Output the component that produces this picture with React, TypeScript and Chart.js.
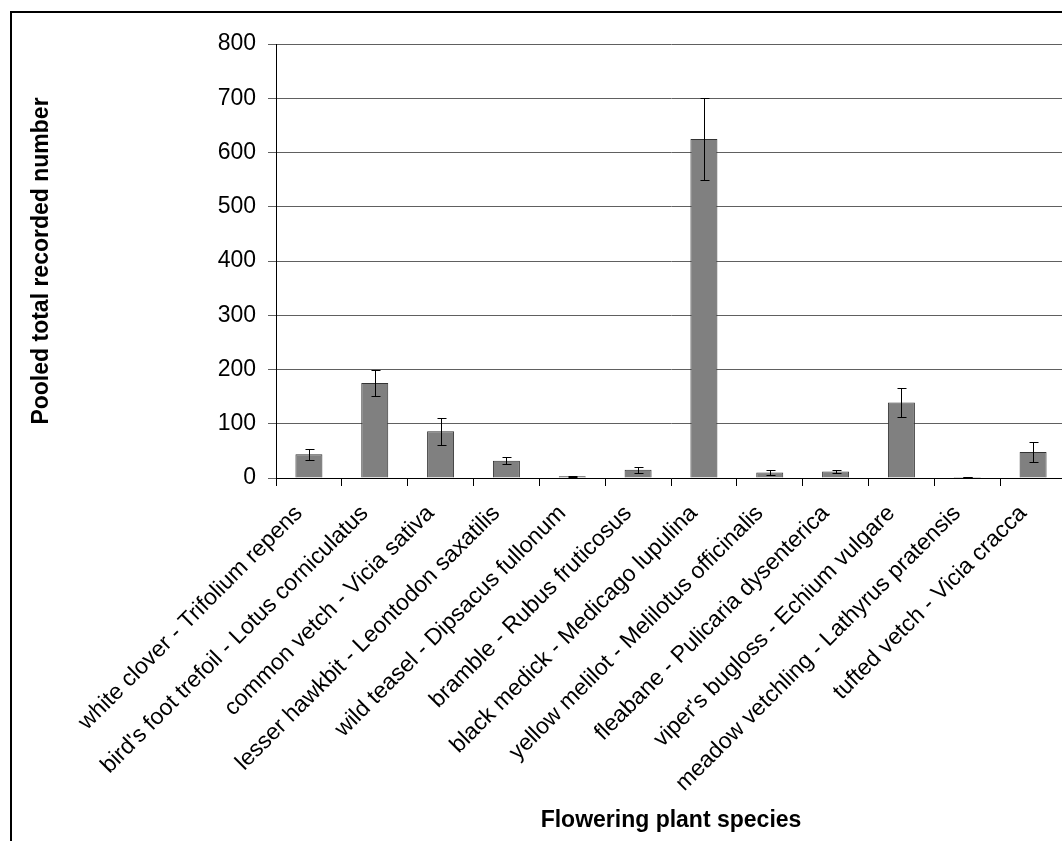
import React, { useEffect, useRef } from 'react';
import { Chart, registerables } from 'chart.js';

Chart.register(...registerables);

const categories = [
  'white clover - Trifolium repens',
  "bird's foot trefoil - Lotus corniculatus",
  'common vetch - Vicia sativa',
  'lesser hawkbit - Leontodon saxatilis',
  'wild teasel - Dipsacus fullonum',
  'bramble - Rubus fruticosus',
  'black medick - Medicago lupulina',
  'yellow melilot - Melilotus officinalis',
  'fleabane - Pulicaria dysenterica',
  "viper's bugloss - Echium vulgare",
  'meadow vetchling - Lathyrus pratensis',
  'tufted vetch - Vicia cracca',
];
const values = [44, 175, 86, 32, 3, 15, 625, 10, 12, 139, 2, 48];
const errors = [10, 24, 25, 7, 0.5, 5, 76, 5, 3.5, 26, 0.5, 19];
const yMin = 0;
const yMax = 800;
const yStep = 100;
const xTitle = 'Flowering plant species';
const yTitle = 'Pooled total recorded number';

const FONT = "'Liberation Sans', Arial, sans-serif";
const FS = 23;

const errorBarPlugin = {
  id: 'errorBars',
  afterDatasetsDraw(chart: any) {
    const ctx = chart.ctx;
    const meta = chart.getDatasetMeta(0);
    const yScale = chart.scales.y;
    ctx.save();
    ctx.strokeStyle = '#000';
    ctx.lineWidth = 1;
    meta.data.forEach((bar: any, i: number) => {
      const v = values[i];
      const e = errors[i];
      const x = Math.round(bar.x) + 0.5;
      const yTop = Math.round(yScale.getPixelForValue(v + e)) + 0.5;
      const yBot = Math.round(yScale.getPixelForValue(Math.max(v - e, 0))) + 0.5;
      ctx.beginPath();
      ctx.moveTo(x, yTop);
      ctx.lineTo(x, yBot);
      ctx.moveTo(x - 4, yTop);
      ctx.lineTo(x + 5, yTop);
      ctx.moveTo(x - 4, yBot);
      ctx.lineTo(x + 5, yBot);
      ctx.stroke();
    });
    ctx.restore();
  },
};

export default function App() {
  const ref = useRef<HTMLCanvasElement | null>(null);

  useEffect(() => {
    if (!ref.current) return;
    const chart = new Chart(ref.current, {
      type: 'bar',
      data: {
        labels: categories,
        datasets: [
          {
            data: values,
            backgroundColor: '#808080',
            borderColor: '#333333',
            borderWidth: 1,
            barPercentage: 0.41,
            categoryPercentage: 1,
          },
        ],
      },
      options: {
        animation: false,
        responsive: false,
        maintainAspectRatio: false,
        devicePixelRatio: 1,
        layout: { padding: { top: 44, right: 14, bottom: 0, left: 0 } },
        plugins: {
          legend: { display: false },
          tooltip: { enabled: false },
        },
        scales: {
          x: {
            offset: true,
            grid: {
              offset: true,
              drawOnChartArea: false,
              drawTicks: true,
              tickLength: 8,
              tickColor: '#000',
              tickWidth: 1,
            },
            border: { color: '#000', width: 1 },
            ticks: {
              autoSkip: false,
              minRotation: 45,
              maxRotation: 45,
              padding: 14,
              labelOffset: -10,
              color: '#000',
              font: { family: FONT, size: FS },
            },
            title: {
              display: true,
              text: xTitle,
              color: '#000',
              font: { family: FONT, size: FS, weight: 'bold' },
              padding: { top: 0, bottom: 7 },
            },
            afterFit(scale: any) {
              scale.height = 841 - 478;
            },
          },
          y: {
            min: yMin,
            max: yMax,
            grid: {
              color: '#606060',
              lineWidth: 1,
              tickLength: 8,
              drawTicks: true,
            },
            border: { color: '#000', width: 1 },
            ticks: {
              stepSize: yStep,
              padding: 12,
              color: '#000',
              font: { family: FONT, size: FS },
            },
            title: {
              display: true,
              text: yTitle,
              color: '#000',
              font: { family: FONT, size: FS, weight: 'bold' },
              padding: { top: 28, bottom: 0 },
            },
            afterFit(scale: any) {
              scale.width = 276;
            },
          },
        },
      },
      plugins: [errorBarPlugin],
    });
    return () => chart.destroy();
  }, []);

  return (
    <div
      style={{
        position: 'fixed',
        left: 0,
        top: 0,
        width: 1062,
        height: 841,
        overflow: 'hidden',
        background: '#fff',
      }}
    >
      <div
        style={{
          position: 'absolute',
          left: 10,
          top: 11,
          width: 2000,
          height: 2000,
          borderLeft: '2px solid #000',
          borderTop: '2px solid #000',
        }}
      />
      <canvas
        ref={ref}
        width={1080}
        height={841}
        style={{ position: 'absolute', left: 0, top: 0, width: 1080, height: 841 }}
      />
    </div>
  );
}
